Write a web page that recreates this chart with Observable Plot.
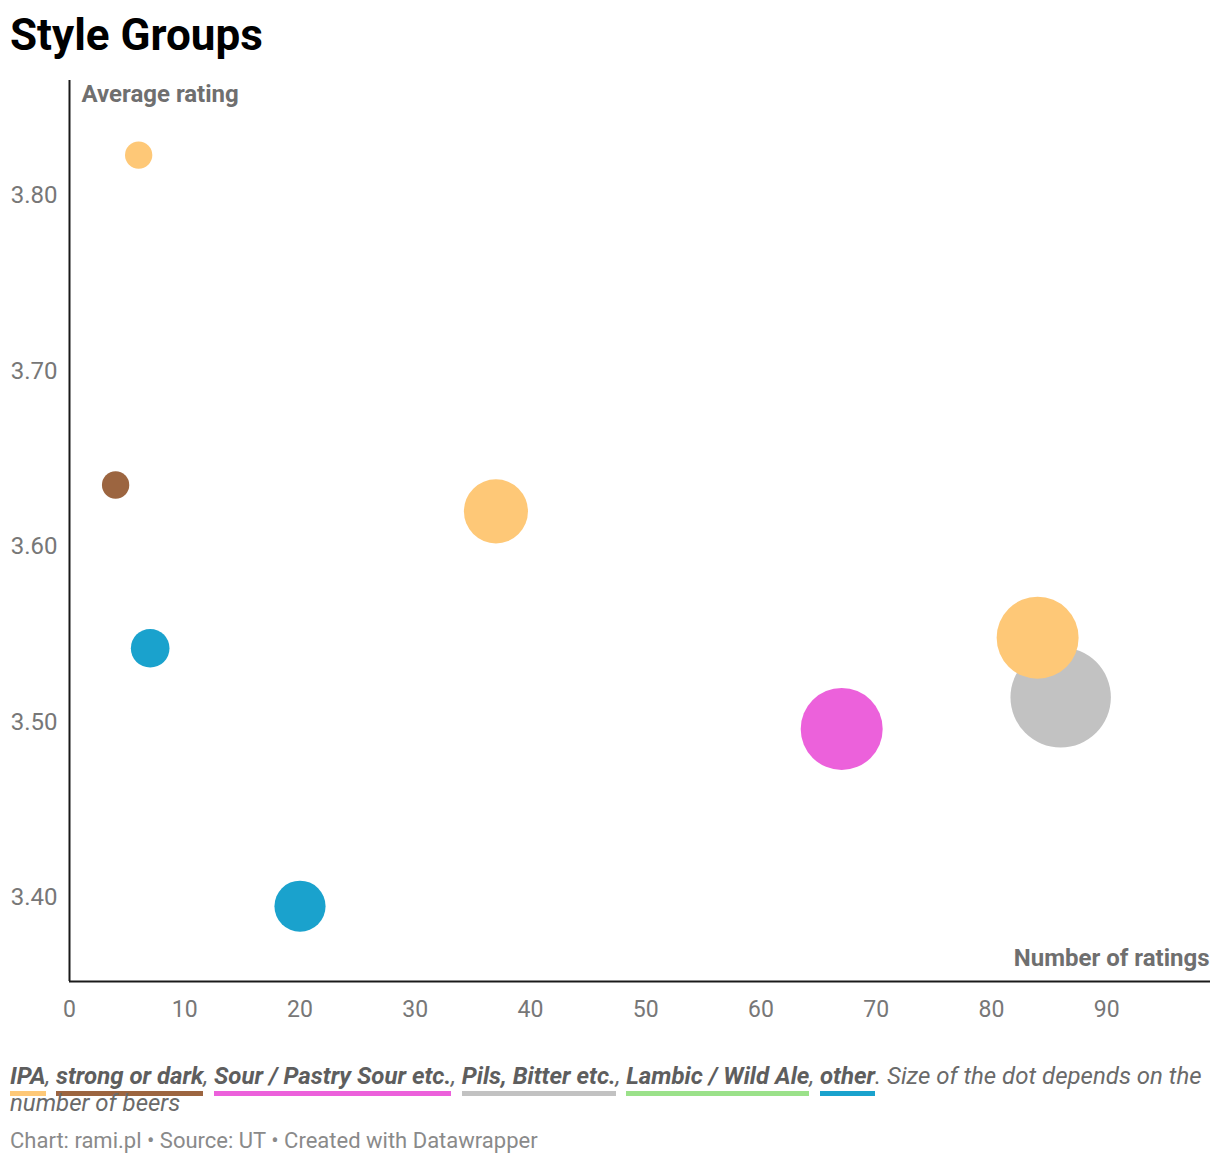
<!DOCTYPE html>
<html>
<head>
<meta charset="utf-8">
<script src="https://cdn.jsdelivr.net/npm/d3@7"></script>
<script src="https://cdn.jsdelivr.net/npm/@observablehq/plot@0.6"></script>
<style>
  html, body { margin: 0; padding: 0; background: #fff; }
  body { width: 1220px; font-family: Roboto, "Noto Sans", sans-serif; }
  #title { margin: 0; padding: 6px 0 0 10px; height: 56px; line-height: 59px; font-size: 44px; font-weight: 700; color: #000; overflow: visible; }
  #chart svg { display: block; }
  #legend { margin: 23px 0 0 0; padding-left: 10px; width: 1200px; font-size: 24px; line-height: 27px; font-style: italic; color: #6a6a6a; }
  #legend .k { font-weight: 700; color: #5e5e5e; border-bottom: 5px solid; padding-bottom: 1px; }
  #source { margin-top: 12px; padding-left: 10px; font-size: 22px; line-height: 24px; color: #8a8a8a; }
</style>
</head>
<body>
<div id="title">Style Groups</div>
<div id="chart"></div>
<div id="legend"></div>
<div id="source">Chart: rami.pl • Source: UT • Created with Datawrapper</div>
<script>
// Categories and colours
const categories = ["IPA", "strong or dark", "Sour / Pastry Sour etc.", "Pils, Bitter etc.", "Lambic / Wild Ale", "other"];
const colors = ["#fec877", "#9c6540", "#ec61db", "#c2c2c2", "#9be18a", "#1aa2cd"];

// Series (one entry per bubble)
const styles = ["IPA", "strong or dark", "other", "other", "IPA", "Sour / Pastry Sour etc.", "IPA", "Pils, Bitter etc."];
const numRatings = [6, 4, 7, 20, 37, 67, 84, 86];
const avgRating = [3.823, 3.635, 3.542, 3.395, 3.620, 3.496, 3.548, 3.514];
const numBeers = [2, 2, 4, 7, 11, 18, 18, 27];

// Ticks
const xTicks = [0, 10, 20, 30, 40, 50, 60, 70, 80, 90];
const yTicks = [3.4, 3.5, 3.6, 3.7, 3.8];

const data = styles.map((s, i) => ({style: s, count: numRatings[i], rating: avgRating[i], beers: numBeers[i]}));

const yMin = 3.3521, yMax = 3.8655;

const chart = Plot.plot({
  width: 1220,
  height: 978,
  marginLeft: 69,
  marginRight: 10,
  marginTop: 18,
  marginBottom: 59,
  style: {fontFamily: "Roboto, 'Noto Sans', sans-serif", background: "#fff", overflow: "visible"},
  x: {domain: [0, 99]},
  y: {domain: [yMin, yMax]},
  r: {type: "sqrt", domain: [0, 27], range: [0, 50.2]},
  color: {domain: categories, range: colors},
  marks: [
    Plot.axisX({ticks: xTicks, tickSize: 0, tickPadding: 19, fontSize: 23, fill: "#777", label: null}),
    Plot.axisY({ticks: yTicks, tickSize: 0, tickPadding: 12, tickFormat: d3.format(".2f"), fontSize: 24, fill: "#777", label: null}),
    Plot.dot(data, {x: "count", y: "rating", r: "beers", fill: "style", stroke: null, fillOpacity: 1}),
    Plot.ruleX([0], {stroke: "#1a1a1a", strokeWidth: 2}),
    Plot.ruleY([yMin], {stroke: "#1a1a1a", strokeWidth: 2}),
    Plot.text(["Average rating"], {text: d => d, frameAnchor: "top-left", dx: 12, dy: 14, textAnchor: "start", lineAnchor: "middle", fontWeight: "bold", fontSize: 24, fill: "#6f6f6f"}),
    Plot.text(["Number of ratings"], {text: d => d, frameAnchor: "bottom-right", dx: -1, dy: -23, textAnchor: "end", lineAnchor: "middle", fontWeight: "bold", fontSize: 24, fill: "#6f6f6f"})
  ]
});
document.getElementById("chart").appendChild(chart);

// Legend caption
const legend = document.getElementById("legend");
categories.forEach((c, i) => {
  const span = document.createElement("span");
  span.className = "k";
  span.style.borderBottomColor = colors[i];
  span.textContent = c;
  legend.appendChild(span);
  legend.appendChild(document.createTextNode(i < categories.length - 1 ? ", " : ""));
});
legend.appendChild(document.createTextNode(". Size of the dot depends on the number of beers"));
</script>
</body>
</html>
